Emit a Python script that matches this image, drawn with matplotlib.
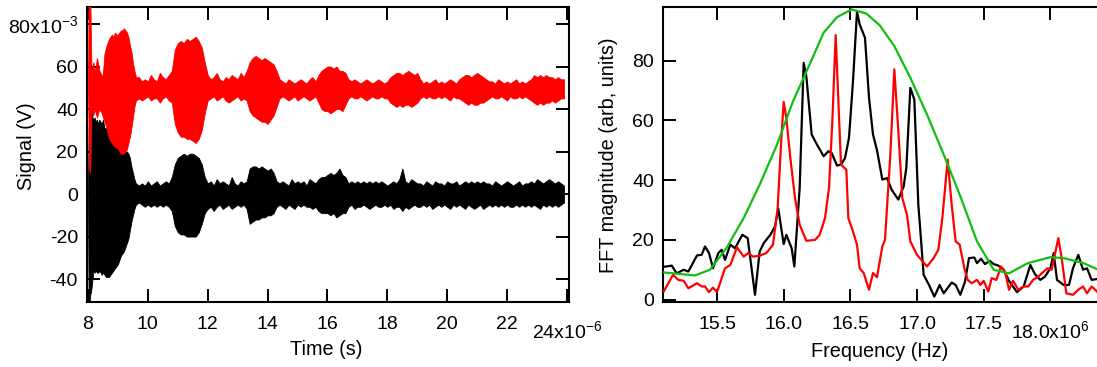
import numpy as np
import matplotlib
matplotlib.use('Agg')
import matplotlib.pyplot as plt

plt.rcParams['font.family'] = ['Liberation Sans', 'DejaVu Sans']
plt.rcParams['mathtext.fontset'] = 'custom'
plt.rcParams['mathtext.rm'] = 'Liberation Sans'
plt.rcParams['mathtext.it'] = 'Liberation Sans:italic'
plt.rcParams['mathtext.bf'] = 'Liberation Sans:bold'

# ---------------- time-domain envelopes (time in microseconds, signal in mV) ----------------
early_t = [8.00, 8.02, 8.04, 8.06, 8.08, 8.10, 8.12, 8.15, 8.18, 8.22, 8.26, 8.30, 8.34, 8.38,
           8.42, 8.46, 8.50, 8.55, 8.60, 8.65, 8.70, 8.75, 8.80, 8.85, 8.90, 8.95, 9.00, 9.05,
           9.10, 9.15, 9.20, 9.25, 9.30, 9.35, 9.40, 9.45, 9.50, 9.55, 9.60]
late_t = [round(9.7 + 0.1 * k, 1) for k in range(143)]  # sampling grid 9.7 .. 23.9 us

red_hi_early = [50, 90, 90, 90, 90, 72, 56, 60, 62, 58, 60, 64, 61, 58, 57, 55, 57, 66, 69, 71,
                73, 74, 75, 74, 76, 75, 75, 76, 77, 77, 78, 77, 76, 74, 70, 67, 62, 58, 55]
red_lo_early = [50, 30, 12, 10, 12, 28, 40, 38, 37, 40, 38, 36, 38, 40, 39, 38, 36, 34, 32, 29,
                26, 25, 24, 23, 22, 22, 21, 20, 19, 19, 19, 20, 21, 24, 27, 31, 36, 41, 44]
red_hi_late = [55, 53, 54, 53, 56, 54, 53, 57, 55, 54, 56, 58,
               68, 71, 72, 71, 73, 72, 73, 74, 72, 69, 62,
               56, 54, 55, 57, 54, 53, 55, 54, 56, 55, 54, 57, 55, 58,
               62, 64, 65, 64, 63, 64, 63, 62, 61, 58,
               54, 53, 52, 54, 53, 52, 53, 54, 53, 52, 54, 55, 53,
               56, 58, 59, 60, 60, 59, 60, 58, 58, 57,
               54, 53, 54, 53, 52, 53, 54, 53, 52, 53, 54, 53, 52, 53,
               55, 56, 57, 57, 56, 57, 58, 57, 56, 57,
               54, 52, 53, 52, 53, 54, 52, 53, 52, 53, 54, 53, 52, 54,
               55, 56, 56, 55, 56, 57, 56, 55, 54,
               53, 53, 52, 54, 53, 52, 53, 52, 53, 54, 52, 53, 52, 53,
               54, 56, 55, 56, 55, 56, 55, 55, 54, 55, 54, 54]
red_lo_late = [45, 44, 45, 46, 44, 45, 45, 43, 45, 46, 44, 43,
               33, 29, 27, 27, 26, 26, 25, 24, 26, 30, 38,
               44, 45, 46, 44, 45, 46, 44, 43, 44, 45, 46, 44, 45, 44,
               39, 37, 36, 35, 34, 34, 33, 35, 37, 41,
               45, 46, 45, 44, 45, 46, 44, 45, 46, 45, 44, 45, 46,
               43, 40, 39, 39, 38, 39, 40, 40, 39, 42,
               45, 46, 45, 45, 46, 45, 44, 45, 46, 45, 45, 46, 45, 45,
               43, 42, 41, 42, 41, 42, 42, 41, 42, 43,
               45, 46, 45, 46, 45, 45, 46, 45, 46, 45, 44, 46, 45, 45,
               44, 43, 42, 43, 42, 42, 43, 43, 44,
               45, 46, 45, 45, 46, 45, 44, 46, 45, 45, 46, 45, 46, 45,
               44, 43, 42, 43, 42, 43, 43, 44, 43, 44, 45, 45]

blk_hi_early = [0, 30, 38, 47, 35, 42, 40, 36, 35, 36, 34, 35, 33, 35, 34, 33, 35, 31, 31, 30,
                30, 29, 28, 27, 25, 24, 24, 23, 22, 21, 21, 20, 20, 19, 17, 13, 10, 7, 5]
blk_lo_early = [0, -51, -51, -50, -47, -46, -44, -40, -36, -37, -36, -37, -37, -36, -37, -38,
                -37, -38, -39, -39, -39, -38, -37, -36, -35, -34, -33, -31, -29, -28, -27, -25,
                -23, -21, -17, -13, -10, -7, -5]
blk_hi_late = [4, 5, 4, 6, 4, 5, 6, 4, 5, 6, 5, 8,
               14, 17, 18, 19, 18, 19, 19, 18, 17, 14, 8,
               5, 6, 4, 7, 5, 6, 5, 4, 8, 5, 4, 6, 5, 6,
               12, 13, 13, 12, 13, 12, 11, 12, 10, 6,
               5, 6, 5, 4, 7, 5, 6, 5, 6, 4, 7, 6, 5,
               7, 8, 8, 9, 10, 9, 10, 12, 9, 8,
               5, 6, 5, 6, 5, 6, 5, 6, 5, 6, 5, 6, 5, 4,
               5, 6, 5, 7, 12, 6, 5, 7, 6, 5,
               5, 4, 6, 5, 4, 6, 5, 5, 4, 6, 5, 5, 6, 4,
               5, 6, 5, 6, 5, 6, 5, 6, 5,
               5, 4, 6, 5, 4, 5, 6, 5, 4, 5, 6, 4, 5, 5,
               6, 5, 7, 6, 5, 6, 7, 6, 5, 6, 5, 4]
blk_lo_late = [-4, -5, -6, -5, -6, -5, -6, -5, -6, -5, -6, -8,
               -15, -18, -19, -19, -20, -20, -20, -20, -18, -14, -9,
               -7, -6, -8, -6, -5, -7, -6, -5, -7, -6, -5, -6, -5, -7,
               -14, -13, -12, -12, -11, -11, -10, -10, -9, -6,
               -5, -6, -7, -5, -6, -7, -5, -6, -5, -6, -6, -7, -6,
               -8, -9, -9, -9, -10, -9, -11, -10, -9, -9,
               -6, -5, -7, -6, -6, -5, -6, -7, -6, -5, -6, -6, -5, -6,
               -5, -7, -6, -6, -8, -6, -7, -6, -5, -6,
               -6, -5, -6, -5, -7, -6, -5, -6, -5, -6, -7, -5, -6, -5,
               -6, -7, -5, -6, -7, -6, -5, -7, -6,
               -5, -6, -5, -6, -5, -6, -5, -6, -6, -5, -6, -5, -6, -5,
               -6, -5, -6, -7, -5, -6, -5, -6, -5, -6, -5, -4]

# ---------------- FFT magnitudes (frequency in MHz) ----------------
black_f = [15.10, 15.123, 15.16, 15.198, 15.25, 15.285, 15.35, 15.385, 15.41, 15.44, 15.47, 15.51,
           15.535, 15.56, 15.60, 15.635, 15.69, 15.73, 15.785, 15.82, 15.85, 15.90, 15.935, 15.96,
           16.0, 16.02, 16.06, 16.08, 16.12, 16.15, 16.17, 16.21, 16.25, 16.30, 16.335, 16.36,
           16.40, 16.43, 16.46, 16.49, 16.52, 16.55, 16.57, 16.61, 16.64, 16.67, 16.70, 16.74,
           16.775, 16.81, 16.86, 16.90, 16.92, 16.95, 16.98, 17.01, 17.05, 17.09, 17.13, 17.17,
           17.20, 17.26, 17.29, 17.325, 17.36, 17.39, 17.43, 17.45, 17.48, 17.51, 17.545, 17.575,
           17.61, 17.65, 17.69, 17.75, 17.80, 17.85, 17.885, 17.925, 17.96, 18.0, 18.025, 18.05,
           18.10, 18.14, 18.17, 18.21, 18.245, 18.275, 18.31, 18.35]
black_v = [11, 11.1, 11.4, 8.8, 10, 9.4, 14.8, 15, 17.8, 15.6, 10.5, 15.6,
           16.7, 13.3, 18.4, 17.2, 21.7, 20.6, 1.6, 16.1, 18.9, 21.7, 24.5, 30.4,
           18.6, 21.7, 17.2, 11.1, 37.4, 79.3, 74.8, 55.3, 51.9, 48, 49.7, 49.1,
           44.9, 45.2, 47.4, 54.2, 73.2, 96.4, 92.2, 87.7, 67.6, 55.3, 50, 40.2,
           40.7, 36.8, 33.5, 37.9, 44.1, 70.9, 67, 31.8, 8.3, 4.9, 1.0, 4.9,
           2.1, 5.7, 4.9, 1.6, 6.0, 13.9, 14.1, 12.2, 13.7, 11.9, 13, 11.9,
           11.4, 10, 6.3, 2.5, 4.4, 11.6, 8.5, 6.6, 7.7, 10.5, 15.6, 6.6,
           4.9, 4.9, 10.5, 15, 10, 10.5, 6.6, 6.9]

red_f = [15.10, 15.17, 15.21, 15.25, 15.285, 15.35, 15.385, 15.41, 15.44, 15.47, 15.50, 15.56,
         15.60, 15.65, 15.70, 15.735, 15.77, 15.82, 15.87, 15.92, 15.955, 15.98, 16.0, 16.02,
         16.05, 16.085, 16.12, 16.17, 16.235, 16.27, 16.31, 16.34, 16.365, 16.39, 16.43, 16.47,
         16.485, 16.52, 16.55, 16.57, 16.60, 16.64, 16.67, 16.70, 16.74, 16.76, 16.80, 16.83,
         16.86, 16.89, 16.925, 16.95, 17.0, 17.075, 17.125, 17.16, 17.19, 17.23, 17.26, 17.29,
         17.32, 17.355, 17.38, 17.41, 17.45, 17.475, 17.50, 17.535, 17.56, 17.595, 17.63, 17.66,
         17.69, 17.72, 17.76, 17.80, 17.835, 17.87, 17.91, 17.95, 17.98, 18.01, 18.06, 18.085,
         18.12, 18.17, 18.21, 18.245, 18.275, 18.31, 18.35]
red_v = [2.7, 8.3, 6.6, 6.3, 3.8, 5.5, 4.4, 4.4, 2.5, 4.0, 2.5, 10.5,
         11.6, 17.5, 14.4, 15.6, 14.4, 14.7, 15.6, 18.4, 30.7, 51.9, 66.2, 60.9,
         47.4, 34, 25.1, 19.7, 20, 21.7, 27.3, 37.4, 59.7, 88.6, 45.2, 43.5,
         27.3, 22.8, 18.4, 10.5, 8.9, 3.3, 8.9, 7.5, 17.8, 20, 48.6, 77.1,
         56.4, 34, 28.4, 19.5, 15, 11.1, 13.9, 16.7, 27.3, 46.9, 31.8, 19.5,
         18.4, 10.5, 6.6, 5.5, 6.6, 4.9, 6.3, 2.7, 7.2, 6.6, 11.1, 9.4,
         3.3, 6.3, 3.3, 4.4, 4.4, 6.6, 7.7, 9.4, 10.5, 10, 20.6, 13.9,
         2.1, 1.6, 3.3, 4.4, 2.1, 4.4, 2.7]

green_f = [15.10, 15.335, 15.447, 15.57, 15.70, 15.82, 15.95, 16.07, 16.20, 16.30, 16.40, 16.51,
           16.62, 16.72, 16.83, 16.95, 17.075, 17.20, 17.325, 17.45, 17.575, 17.69, 17.83, 18.0,
           18.10, 18.25, 18.35]
green_v = [9.1, 8.1, 10.0, 17.2, 27.3, 38.5, 51.9, 66.4, 79.3, 89.4, 94.6, 97.2,
           95.8, 91.9, 84.9, 74.3, 62, 48.6, 34.6, 19.5, 10, 8.8, 12.2, 14.2,
           13.9, 12.2, 10.2]

left_xticks = [8, 10, 12, 14, 16, 18, 20, 22, 24]
left_xticklabels = ['8', '10', '12', '14', '16', '18', '20', '22', '24x10$^{-6}$']
left_yticks = [-40, -20, 0, 20, 40, 60, 80]
left_yticklabels = ['-40', '-20', '0', '20', '40', '60', '80x10$^{-3}$']
right_xticks = [15.5, 16.0, 16.5, 17.0, 17.5, 18.0]
right_xticklabels = ['15.5', '16.0', '16.5', '17.0', '17.5', '18.0x10$^{6}$']
right_yticks = [0, 20, 40, 60, 80]

# ---------------- figure ----------------
W, H = 1097, 367
fig = plt.figure(figsize=(W / 100, H / 100), dpi=100)
ax1 = fig.add_axes([87 / W, 65 / H, 482 / W, 295 / H])
ax2 = fig.add_axes([663 / W, 65 / H, 434 / W, 295 / H])

TICKFS = 14
LABFS = 14.3

us = 1e-6
mv = 1e-3
t_all = np.array(early_t + late_t) * us
ax1.fill_between(t_all, np.array(blk_lo_early + blk_lo_late) * mv,
                 np.array(blk_hi_early + blk_hi_late) * mv,
                 color='black', lw=0.6, zorder=2)
ax1.fill_between(t_all, np.array(red_lo_early + red_lo_late) * mv,
                 np.array(red_hi_early + red_hi_late) * mv,
                 color='#ff0000', lw=0.6, zorder=3)
ax1.set_xlim(7.967 * us, 24.067 * us)
ax1.set_ylim(-50.8 * mv, 88.0 * mv)
ax1.set_xticks(np.array(left_xticks) * us)
ax1.set_xticklabels(left_xticklabels)
ax1.set_yticks(np.array(left_yticks) * mv)
ax1.set_yticklabels(left_yticklabels)
ax1.tick_params(direction='in', length=9.5, width=1.4, top=True, right=True,
                labelsize=TICKFS, color='black')
ax1.tick_params(axis='x', pad=10)
ax1.tick_params(axis='y', pad=6.5)

ax2.plot(np.array(black_f) * 1e6, black_v, color='black', lw=1.6, zorder=2)
ax2.plot(np.array(red_f) * 1e6, red_v, color='#ff0000', lw=1.6, zorder=3)
ax2.plot(np.array(green_f) * 1e6, green_v, color='#10c010', lw=1.6, zorder=4)
ax2.set_xlim(15.095e6, 18.35e6)
ax2.set_ylim(-0.8, 98.0)
ax2.set_xticks(np.array(right_xticks) * 1e6)
ax2.set_xticklabels(right_xticklabels)
ax2.set_yticks(right_yticks)
ax2.tick_params(direction='in', length=9.5, width=1.4, top=True, right=False,
                labelsize=TICKFS)
ax2.tick_params(axis='x', pad=10)
ax2.tick_params(axis='y', pad=6.5)
ax2.spines['right'].set_visible(False)

for ax in (ax1, ax2):
    for s in ax.spines.values():
        s.set_linewidth(1.5)

# exponent-bearing tick labels sit slightly lower, as in the reference
ax1.xaxis.get_major_ticks()[-1].set_pad(13)
ax2.xaxis.get_major_ticks()[-1].set_pad(13)

fig.text(26 / W, 1 - 146 / H, 'Signal (V)', rotation=90, ha='center', va='center', fontsize=LABFS)
fig.text(326 / W, 1 - 340 / H, 'Time (s)', ha='center', va='top', fontsize=LABFS)
fig.text(609 / W, 1 - 155 / H, 'FFT magnitude (arb, units)', rotation=90, ha='center',
         va='center', fontsize=LABFS)
fig.text(880 / W, 1 - 342 / H, 'Frequency (Hz)', ha='center', va='top', fontsize=LABFS)

fig.savefig('out.png', dpi=100)
